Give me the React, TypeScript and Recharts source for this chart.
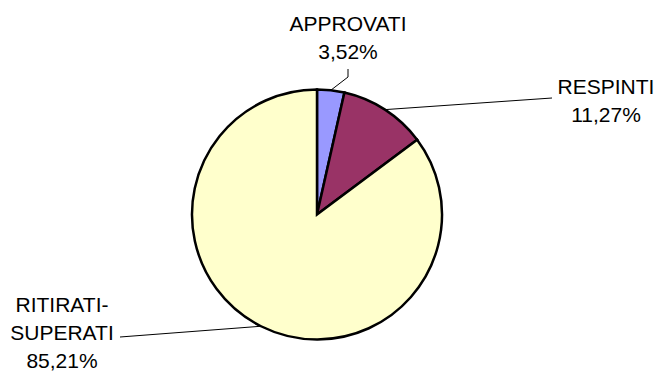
import { Cell, Pie, PieChart } from 'recharts';

// Esiti esame (percentuali)
const categories = ['APPROVATI', 'RESPINTI', 'RITIRATI-SUPERATI'];
const shares = [3.52, 11.27, 85.21];
const sliceColors = ['#9999FF', '#993366', '#FFFFCC'];

const chartData = categories.map((name, i) => ({ name, value: shares[i] }));

// where each label block sits and the bend points of its leader line
const labelLayout = [
  { x: 348, y: 31, path: [[348, 77], [348, 69]] },
  { x: 606, y: 94, path: [[552, 98]] },
  { x: 62, y: 312, path: [[120, 337]] },
];

const LINE_HEIGHT = 28;
const RADIAN = Math.PI / 180;

const formatPercent = (v: number) => `${v.toFixed(2).replace('.', ',')}%`;

function SliceLabel(props: any) {
  const { cx, cy, midAngle, outerRadius, index, name, value } = props;
  const layout = labelLayout[index];
  if (!layout) return null;

  const sx = cx + outerRadius * Math.cos(-midAngle * RADIAN);
  const sy = cy + outerRadius * Math.sin(-midAngle * RADIAN);
  const points = [[sx, sy], ...layout.path].map(p => p.join(',')).join(' ');

  const lines = [...String(name).split(/(?<=-)/), formatPercent(value)];

  return (
    <g>
      <polyline points={points} fill="none" stroke="#000" strokeWidth={1} />
      <text
        x={layout.x}
        y={layout.y}
        textAnchor="middle"
        fill="#000"
        fontSize={21}
        fontFamily="'Liberation Sans', Arial, sans-serif"
      >
        {lines.map((line, i) => (
          <tspan key={line} x={layout.x} y={layout.y + i * LINE_HEIGHT}>
            {line}
          </tspan>
        ))}
      </text>
    </g>
  );
}

export default function App() {
  return (
    <div style={{ position: 'absolute', left: 0, top: 0, background: '#fff' }}>
      <PieChart width={656} height={372} margin={{ top: 0, right: 0, bottom: 0, left: 0 }}>
        <Pie
          data={chartData}
          dataKey="value"
          nameKey="name"
          cx={317}
          cy={214.5}
          outerRadius={125}
          startAngle={90}
          endAngle={-270}
          stroke="#000"
          strokeWidth={2.5}
          label={SliceLabel}
          labelLine={false}
          isAnimationActive={false}
        >
          {chartData.map((entry, i) => (
            <Cell key={entry.name} fill={sliceColors[i]} />
          ))}
        </Pie>
      </PieChart>
    </div>
  );
}
